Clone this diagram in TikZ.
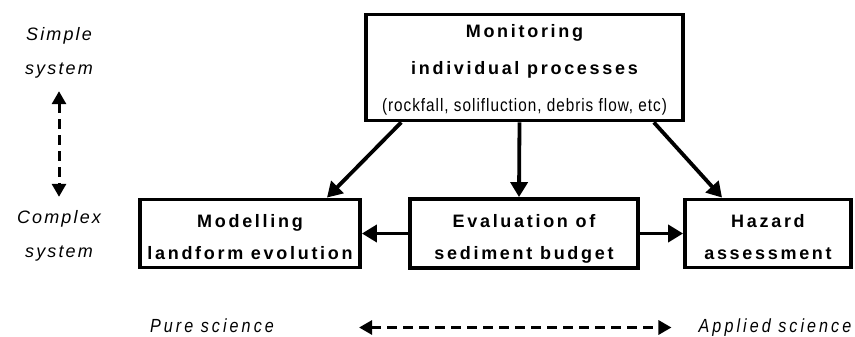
\documentclass[tikz,border=0pt]{standalone}
\usepackage{fontspec}
\setmainfont{Liberation Sans}
\newfontfamily\boxfont[LetterSpace=15]{Liberation Sans}
\newfontfamily\notefont[FakeStretch=0.85,LetterSpace=5.5]{Liberation Sans}
\newfontfamily\sidefont[LetterSpace=12]{Liberation Sans}
\newfontfamily\axisfont[FakeStretch=0.85,LetterSpace=16]{Liberation Sans}
\usetikzlibrary{arrows.meta}
\begin{document}
\begin{tikzpicture}[x=1pt,y=-1pt,
    box/.style={draw,line width=3.8pt,align=center,inner sep=0pt,
        font=\boxfont\bfseries\fontsize{18}{32}\selectfont},
    flow/.style={line width=3.8pt,-{Triangle[length=15pt,width=17pt]}},
    dasharrow/.style={line width=3pt,dash pattern=on 10pt off 6pt,
        {Triangle[length=13pt,width=14pt]}-{Triangle[length=13pt,width=14pt]}},
    sidelabel/.style={align=center,inner sep=2pt,text height=47pt,text depth=4pt,
        font=\sidefont\itshape\fontsize{18}{34}\selectfont},
    axislabel/.style={inner sep=2pt,text height=13pt,text depth=4pt,
        font=\axisfont\itshape\fontsize{19}{19}\selectfont}]
    \useasboundingbox (0,0) rectangle (855,337);
    \node[box,minimum width=317pt,minimum height=106pt,text height=92pt,text depth=3pt,
        font=\boxfont\bfseries\fontsize{18}{37}\selectfont] (monitor) at (524.5,67.5)
        {Monitoring\\individual processes\\{\notefont\mdseries (rockfall, solifluction, debris flow, etc)}};
    \node[box,minimum width=220pt,minimum height=68pt,text height=54pt,text depth=3pt] (model) at (250,233.5) {Modelling\\landform evolution};
    \node[box,minimum width=228pt,minimum height=69pt,text height=54pt,text depth=3pt] (budget) at (524,233.5) {Evaluation of\\sediment budget};
    \node[box,minimum width=166pt,minimum height=68pt,text height=54pt,text depth=3pt] (hazard) at (768,233.5) {Hazard\\assessment};
    \node[sidelabel] (simple) at (59,53.5) {Simple\\system};
    \node[sidelabel] (complex) at (59,235.5) {Complex\\system};
    \node[axislabel] (pure) at (212,327.5) {Pure science};
    \node[axislabel] (applied) at (775,327.5) {Applied science};
    \draw[flow] (monitor.204) -- (model.25);
    \draw[flow] ([xshift=-5pt]monitor.south) -- ([xshift=-5pt]budget.north);
    \draw[flow] (monitor.337) -- (hazard.142);
    \draw[flow] (budget.west) -- (model.east);
    \draw[flow] (budget.east) -- (hazard.west);
    \draw[dasharrow,shorten <=10pt,shorten >=11pt] (simple) -- (complex);
    \draw[dasharrow,shorten <=83pt,shorten >=25pt] (pure) -- (applied);
\end{tikzpicture}
\end{document}
